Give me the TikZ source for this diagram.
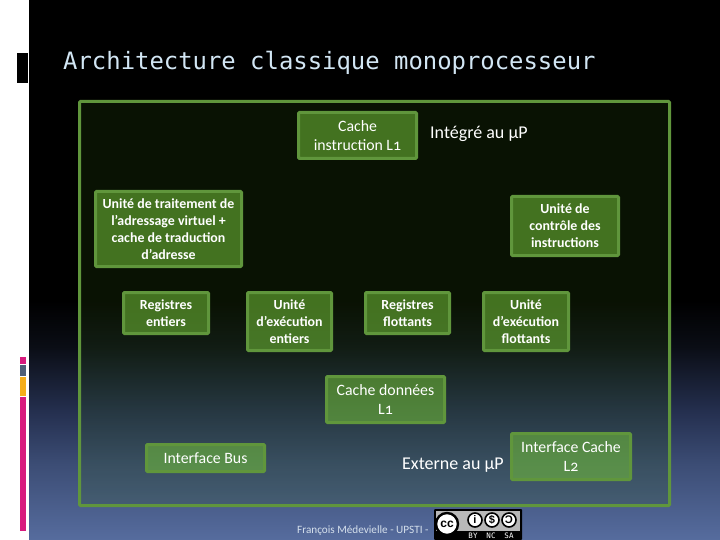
\documentclass[tikz,border=0pt]{standalone}
\usepackage{fontspec}
\setmainfont{Carlito}[Numbers=OldStyle]
\newfontfamily\titlefont{DejaVu Sans Mono}
\newfontfamily\iconfont{Liberation Sans}
\definecolor{bgA}{HTML}{000000}
\definecolor{bgB}{HTML}{0A0D15}
\definecolor{bgC}{HTML}{253050}
\definecolor{bgE}{HTML}{3C4D75}
\definecolor{bgD}{HTML}{566C9E}
\definecolor{edgeG}{HTML}{60963C}
\definecolor{fillG}{HTML}{73C138}
\definecolor{overG}{HTML}{2F5A10}
\definecolor{titleC}{HTML}{D2E6F4}
\definecolor{footC}{HTML}{D5E0EC}
\definecolor{magC}{HTML}{D81B7E}
\definecolor{slateC}{HTML}{4F5F78}
\definecolor{orC}{HTML}{F5AE1B}
% a vertical shading fits the path between 25bp and 75bp
\pgfdeclareverticalshading{slidebg}{100bp}{color(0bp)=(bgD); color(25bp)=(bgD); color(32bp)=(bgE); color(36.8bp)=(bgC); color(42.9bp)=(bgB); color(47.2bp)=(bgA); color(100bp)=(bgA)}
\tikzset{
  x=1pt,y=-1pt,
  unitbox/.style={draw=edgeG,line width=3pt,rounded corners=1pt,fill=fillG,fill opacity=.55,text opacity=1,text=white,align=center,inner sep=0pt,font=\fontsize{13.9}{17}\selectfont\bfseries},
  cachebox/.style={unitbox,font=\fontsize{15.8}{19}\selectfont},
  plainlabel/.style={text=white,inner sep=0pt,font=\fontsize{18}{22}\selectfont},
  ccicon/.style={circle,draw=black,line width=1.6pt,fill=white,minimum size=14pt,inner sep=0pt,text=black,font=\iconfont\fontsize{11}{11}\selectfont\bfseries},
  cclabel/.style={text=white,inner sep=0pt,font=\titlefont\fontsize{7.5}{8}\selectfont}
}
\newcommand{\ubox}[7][unitbox]{\node[#1,minimum width=#4-#3-3pt,minimum height=#6-#5-3pt] (#2) at ({(#3+#4)/2},{(#5+#6)/2}) {#7};}
\begin{document}
\begin{tikzpicture}
\useasboundingbox (0,0) rectangle (720,540);
\fill[white] (0,0) rectangle (720,540);
\shade[shading=slidebg] (29,0) rectangle (720,540);
\fill[black] (17,53) rectangle (28,83);
\fill[magC] (20,357) rectangle (26,364);
\fill[slateC] (20,365) rectangle (26,376);
\fill[orC] (20,377) rectangle (26,396);
\fill[magC] (20,397) rectangle (26,531);
\node[anchor=base west,inner sep=0pt,text=titleC,font=\titlefont\fontsize{23.9}{28}\selectfont] (title) at (63,70) {Architecture classique monoprocesseur};
\draw[draw=edgeG,line width=3pt,fill=overG,fill opacity=.2,rounded corners=1pt] (79.5,101.5) rectangle (669.5,505.5);
\ubox[cachebox]{cacheI}{297}{418}{111}{160}{Cache\\instruction L1}
\ubox{trad}{94}{243}{190}{268}{Unité de traitement de\\l'adressage virtuel +\\cache de traduction\\d'adresse}
\ubox{ctrl}{510}{620}{195}{257}{Unité de\\contrôle des\\instructions}
\ubox{regE}{122}{210}{291}{335}{Registres\\entiers}
\ubox{exE}{246}{333}{291}{352}{Unité\\d'exécution\\entiers}
\ubox{regF}{364}{451}{291}{335}{Registres\\flottants}
\ubox{exF}{482}{570}{291}{352}{Unité\\d'exécution\\flottants}
\ubox[cachebox]{cacheD}{325}{446}{375}{424}{Cache données\\L1}
\ubox[cachebox]{bus}{145}{266}{443}{473}{Interface Bus}
\ubox[cachebox]{cacheL}{510}{632}{432}{481}{Interface Cache\\L2}
\node[plainlabel,anchor=west] (integ) at (430,134) {Intégré au µP};
\node[plainlabel,anchor=west] (ext) at (402,465.5) {Externe au µP};
\node[anchor=base west,inner sep=0pt,text=footC,font=\fontsize{11.2}{13}\selectfont] (foot) at (297,533) {François Médevielle - UPSTI -};
% licence badge
\fill[black,rounded corners=1pt] (434,509) rectangle (522,540);
\fill[black!28] (436,511) rectangle (520,530.5);
\node[circle,draw=black,line width=2.4pt,fill=white,minimum size=22pt,inner sep=0pt,text=black,font=\iconfont\fontsize{12}{12}\selectfont\bfseries] (ccmain) at (447,524) {cc};
\node[ccicon] (by) at (475,520) {i};
\node[ccicon] (nc) at (492,520) {\$};
\node[ccicon] (sa) at (509,520) {\reflectbox{C}};
\node[cclabel] (bylab) at (473,535.5) {BY};
\node[cclabel] (nclab) at (491,535.5) {NC};
\node[cclabel] (salab) at (509,535.5) {SA};
\end{tikzpicture}
\end{document}
